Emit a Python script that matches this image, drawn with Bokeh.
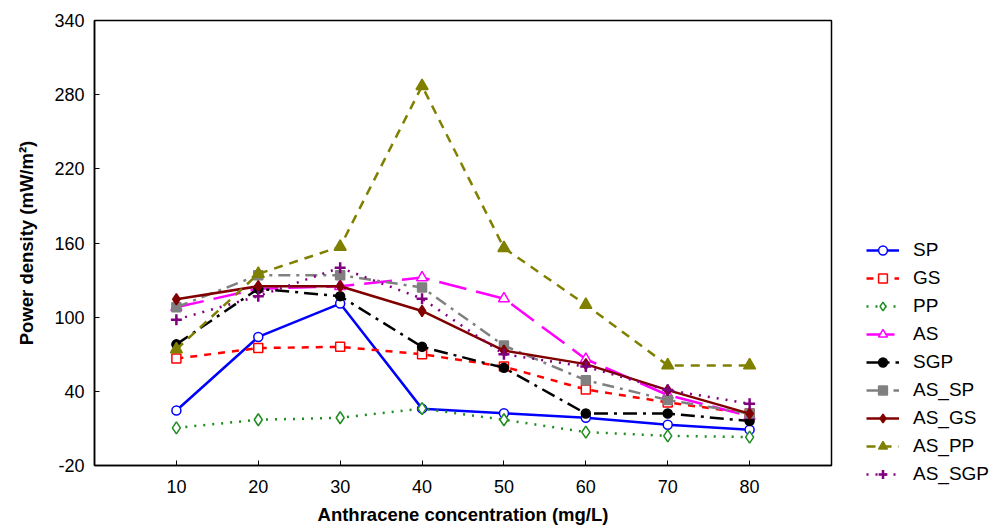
from bokeh.plotting import figure
from bokeh.models import Legend, LegendItem, FixedTicker, Range1d
from bokeh.layouts import row
from bokeh.embed import file_html
from bokeh.resources import INLINE

conc = [10, 20, 30, 40, 50, 60, 70, 80]

SP = [24.5, 84, 111, 26, 22.3, 18.6, 13, 9]
GS = [66.5, 75, 76, 70, 60, 41.5, 31, 22]
PP = [10.5, 17, 18.6, 26, 17, 7, 4, 3]
AS = [108, 123, 125, 132, 115, 66, 37, 20]
SGP = [78, 123, 117, 76, 59, 22, 22, 16]
AS_SP = [108, 134, 134, 124, 77, 49, 33, 22]
AS_GS = [114.5, 125, 125, 105, 73, 62, 41, 22]
AS_PP = [74, 135, 157, 287, 156, 110, 61, 61]
AS_SGP = [98, 117, 140, 115, 70, 60, 41, 30]

names = ["SP", "GS", "PP", "AS", "SGP", "AS_SP", "AS_GS", "AS_PP", "AS_SGP"]
values = [SP, GS, PP, AS, SGP, AS_SP, AS_GS, AS_PP, AS_SGP]

y_ticks = [-20, 40, 100, 160, 220, 280, 340]
x_ticks = [10, 20, 30, 40, 50, 60, 70, 80]

styles = {
    "SP":     dict(color="#0000FF", dash="solid",       marker="circle",   size=9,  fill="white"),
    "GS":     dict(color="#FF0000", dash="7 7",         marker="square",   size=9,  fill="white"),
    "PP":     dict(color="#1E8C1E", dash="2 7",         marker="diamond",  size=12, fill="white"),
    "AS":     dict(color="#FF00FF", dash="28 10",       marker="triangle", size=11, fill="white"),
    "SGP":    dict(color="#000000", dash="14 6 3 6",    marker="circle",   size=9,  fill="#000000"),
    "AS_SP":  dict(color="#808080", dash="12 6 3 6",    marker="square",   size=9,  fill="#808080"),
    "AS_GS":  dict(color="#800000", dash="solid",       marker="diamond",  size=11, fill="#800000"),
    "AS_PP":  dict(color="#808000", dash="9 7",         marker="triangle", size=12, fill="#808000"),
    "AS_SGP": dict(color="#800080", dash="2 7",         marker="cross",    size=11, fill="#800080"),
}

FONT = "Liberation Sans"

# ---- main chart ----
p = figure(width=833, height=531, output_backend="svg", toolbar_location=None,
           x_range=Range1d(0, 90), y_range=Range1d(-20, 340),
           min_border_left=94, min_border_right=2, min_border_top=20,
           min_border_bottom=66)

p.xgrid.visible = False
p.ygrid.visible = False
p.outline_line_color = "black"
p.outline_line_width = 1.5
p.background_fill_color = "white"
p.border_fill_color = "white"

p.xaxis.ticker = FixedTicker(ticks=x_ticks)
p.yaxis.ticker = FixedTicker(ticks=y_ticks)
p.yaxis.major_label_overrides = {t: str(t) for t in y_ticks}
for ax in (p.xaxis[0], p.yaxis[0]):
    ax.major_tick_in = 5
    ax.major_tick_out = 0
    ax.minor_tick_line_color = None
    ax.axis_line_color = "black"
    ax.axis_line_width = 1.5
    ax.major_tick_line_color = "black"
    ax.major_label_text_font = FONT
    ax.major_label_text_font_size = "18px"
    ax.major_label_text_color = "black"
    ax.axis_label_text_font = FONT
    ax.axis_label_text_font_style = "bold"
    ax.axis_label_text_font_size = "18.5px"
    ax.axis_label_text_color = "black"

p.xaxis.axis_label = "Anthracene concentration (mg/L)"
p.yaxis.axis_label = "Power density (mW/m\u00b2)"
p.xaxis.major_label_standoff = 14
p.xaxis.axis_label_standoff = 8
p.yaxis.major_label_standoff = 10
p.yaxis.axis_label_standoff = 14

# ---- legend panel (its copies of the series lie outside its 0..1 ranges) ----
q = figure(width=160, height=531, output_backend="svg", toolbar_location=None,
           x_range=Range1d(0, 1), y_range=Range1d(0, 1),
           x_axis_type=None, y_axis_type=None,
           min_border_left=0, min_border_right=0, min_border_top=0, min_border_bottom=0)
q.xgrid.visible = False
q.ygrid.visible = False
q.outline_line_color = None
q.background_fill_color = "white"
q.border_fill_color = "white"


def draw(fig, s, xs, ys):
    lr = fig.line(xs, ys, line_color=s["color"], line_width=2.5, line_dash=s["dash"])
    if s["marker"] == "cross":
        sr = fig.scatter(xs, ys, marker="cross", size=s["size"], line_color=s["color"],
                         line_width=2.5)
    else:
        sr = fig.scatter(xs, ys, marker=s["marker"], size=s["size"], line_color=s["color"],
                         fill_color=s["fill"], line_width=1.5)
    return lr, sr


items = []
for name, vals in zip(names, values):
    s = styles[name]
    draw(p, s, conc, vals)
    lr, sr = draw(q, s, conc, vals)
    items.append(LegendItem(label=name, renderers=[lr, sr]))

legend = Legend(items=items, location=(33, -20), orientation="vertical")
legend.label_text_font = FONT
legend.label_text_font_size = "19px"
legend.label_text_color = "black"
legend.glyph_width = 33
legend.glyph_height = 22
legend.label_height = 22
legend.spacing = 6
legend.label_standoff = 14
legend.padding = 0
legend.margin = 0
legend.border_line_alpha = 0
legend.background_fill_alpha = 0
q.add_layout(legend, "left")

layout = row(p, q)
open("out.html", "w").write(file_html(layout, INLINE))
